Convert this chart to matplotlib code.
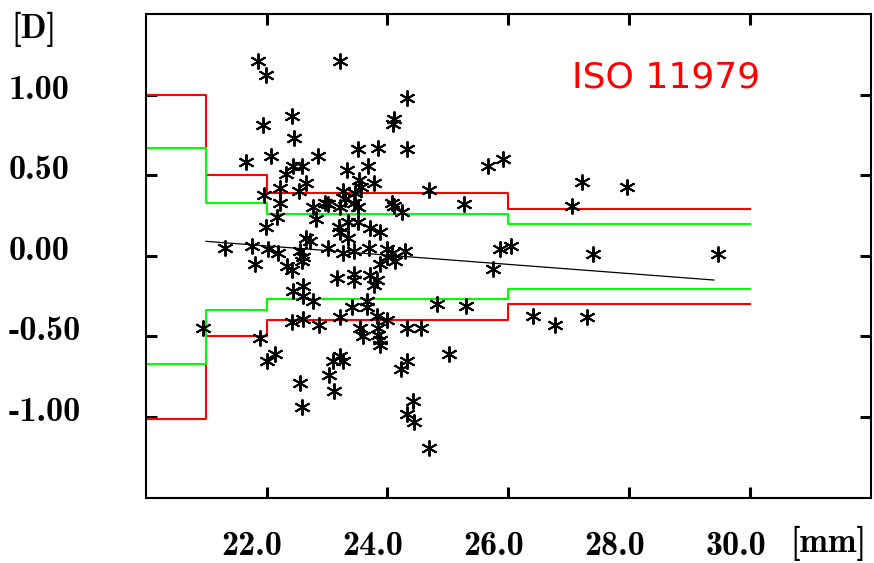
import matplotlib
matplotlib.use("Agg")
import matplotlib.pyplot as plt
from matplotlib import font_manager, transforms

# ---------------- data ----------------
x_ticks = [22.0, 24.0, 26.0, 28.0, 30.0]
x_tick_labels = ["22.0", "24.0", "26.0", "28.0", "30.0"]
y_ticks = [1.0, 0.5, 0.0, -0.5, -1.0]
y_tick_labels = ["1.00", "0.50", "0.00", "-0.50", "-1.00"]

step_x = [20.0, 21.0, 22.0, 26.0, 30.0]
red_upper = [1.00, 0.50, 0.39, 0.29, 0.29]
red_lower = [-1.01, -0.50, -0.40, -0.30, -0.30]
green_upper = [0.67, 0.33, 0.26, 0.195, 0.195]
green_lower = [-0.67, -0.335, -0.27, -0.205, -0.205]

trend_x = [21.0, 29.4]
trend_y = [0.09, -0.15]

pts_x = [
    # upper cluster
    21.86, 21.99, 23.22, 21.94, 22.42, 22.45, 21.66, 22.07, 22.85, 24.32,
    24.11, 24.09, 24.32, 23.51, 23.84, 23.67, 23.33, 22.44, 22.59, 22.32,
    22.66, 23.53, 23.77, 22.22, 21.96, 22.54, 23.26, 23.46, 23.57, 24.69,
    22.22, 22.76, 22.97, 23.02, 23.22, 23.30, 23.44, 23.52, 24.07, 24.11,
    24.24, 22.17, 21.99, 22.81, 23.20, 23.22, 23.35, 23.52, 23.71, 23.87,
    22.66, 22.72, 23.35,
    # around zero
    21.31, 21.76, 22.03, 22.19, 22.55, 22.61, 23.02, 23.27, 23.44, 23.70,
    23.99, 24.07, 24.29, 21.81, 22.33, 22.58, 23.88, 24.13, 23.99, 22.42,
    # lower cluster
    23.16, 23.44, 23.44, 23.71, 23.82, 23.77, 22.44, 22.61, 22.61, 22.77,
    23.66, 23.41, 23.66, 20.95, 21.89, 22.42, 22.61, 22.86, 23.22, 23.82,
    23.99, 23.55, 23.60, 23.85, 23.85, 23.88, 23.88, 24.32, 24.56, 22.00,
    22.14, 23.10, 23.22, 23.27, 24.32, 24.22, 22.55, 23.04, 23.12, 22.59,
    24.42, 24.32, 24.44, 24.69,
    # right side
    25.26, 25.67, 25.91, 27.22, 27.97, 27.05, 25.86, 26.04, 25.74, 27.40,
    29.47, 24.82, 25.30, 26.41, 26.77, 27.30, 25.02,
]
pts_y = [
    1.21, 1.12, 1.21, 0.81, 0.87, 0.73, 0.58, 0.62, 0.62, 0.98,
    0.85, 0.82, 0.66, 0.66, 0.67, 0.56, 0.53, 0.56, 0.56, 0.51,
    0.45, 0.47, 0.45, 0.42, 0.38, 0.40, 0.40, 0.39, 0.43, 0.41,
    0.33, 0.30, 0.33, 0.32, 0.30, 0.35, 0.33, 0.30, 0.33, 0.31,
    0.27, 0.24, 0.18, 0.23, 0.18, 0.15, 0.21, 0.21, 0.17, 0.15,
    0.11, 0.09, 0.11,
    0.05, 0.06, 0.04, 0.02, 0.03, -0.01, 0.05, 0.02, 0.03, 0.05,
    0.04, 0.02, 0.03, -0.05, -0.06, -0.03, -0.05, -0.03, -0.01, -0.09,
    -0.14, -0.11, -0.15, -0.12, -0.15, -0.18, -0.22, -0.19, -0.25, -0.28,
    -0.28, -0.32, -0.32, -0.45, -0.51, -0.41, -0.39, -0.43, -0.38, -0.37,
    -0.40, -0.45, -0.50, -0.45, -0.49, -0.52, -0.55, -0.45, -0.45, -0.65,
    -0.61, -0.65, -0.62, -0.65, -0.65, -0.70, -0.79, -0.74, -0.84, -0.94,
    -0.90, -0.98, -1.03, -1.19,
    0.32, 0.56, 0.60, 0.46, 0.43, 0.31, 0.04, 0.06, -0.08, 0.01,
    0.01, -0.30, -0.31, -0.37, -0.43, -0.38, -0.61,
]

title_text = "ISO 11979"
x_unit = "[mm]"
y_unit = "[D]"

# ---------------- figure ----------------
W, H = 874, 563
fig = plt.figure(figsize=(W / 100, H / 100), dpi=100)
L, R, T, B = 145.7, 871.0, 14.0, 497.7
ax = fig.add_axes([L / W, 1 - B / H, (R - L) / W, (B - T) / H])
ax.set_xlim(20, 32)
ax.set_ylim(-1.5, 1.5)

for s in ax.spines.values():
    s.set_linewidth(1.5)
    s.set_color("black")

ax.set_xticks(x_ticks)
ax.set_yticks(y_ticks)
ax.tick_params(direction="in", length=8, width=2.2, top=True, right=True,
               labelbottom=False, labelleft=False)
ax.minorticks_off()

ax.step(step_x, red_upper, where="post", color="#ff0000", lw=1.5, zorder=2)
ax.step(step_x, red_lower, where="post", color="#ff0000", lw=1.5, zorder=2)
ax.step(step_x, green_upper, where="post", color="#00ff00", lw=1.5, zorder=2)
ax.step(step_x, green_lower, where="post", color="#00ff00", lw=1.5, zorder=2)
ax.plot(trend_x, trend_y, color="black", lw=0.9, zorder=3)

ax.plot(pts_x, pts_y, linestyle="none", marker=(6, 2, 0), markersize=11.5,
        markeredgewidth=1.4, color="black", zorder=4)

tick_font = "cmb10"
fs = 24.5

# x tick labels (baseline at y=555 px, shifted ~14px left of tick)
bt_x = transforms.blended_transform_factory(ax.transData, fig.transFigure)
off_x = transforms.ScaledTranslation(-14.5 / 100, 0, fig.dpi_scale_trans)
for v, lab in zip(x_ticks, x_tick_labels):
    fig.text(v, 1 - 555 / H, lab, transform=bt_x + off_x, ha="center",
             va="baseline", fontsize=fs, family=tick_font)
fig.text(866 / W, 1 - 552 / H, x_unit, ha="right", va="baseline",
         fontsize=fs, family=tick_font)

# y tick labels (left aligned at x=9 px)
bt_y = transforms.blended_transform_factory(fig.transFigure, ax.transData)
off_y = transforms.ScaledTranslation(0, -4.0 / 100, fig.dpi_scale_trans)
for v, lab in zip(y_ticks, y_tick_labels):
    fig.text(9 / W, v, lab, transform=bt_y + off_y, ha="left",
             va="baseline", fontsize=fs, family=tick_font)
fig.text(11 / W, 1 - 38 / H, y_unit, ha="left", va="baseline",
         fontsize=fs, family=tick_font)

# title in narrow sans
names = {f.name for f in font_manager.fontManager.ttflist}
if "Liberation Sans Narrow" in names:
    tfam, tfs = "Liberation Sans Narrow", 33
elif "DejaVu Sans Condensed" in names:
    tfam, tfs = "DejaVu Sans Condensed", 28
else:
    tfam, tfs = "DejaVu Sans", 26
fig.text(571.7 / W, 1 - 88 / H, title_text, ha="left", va="baseline",
         color="#ff0000", fontsize=tfs, family=tfam)

fig.savefig("out.png", dpi=100)
